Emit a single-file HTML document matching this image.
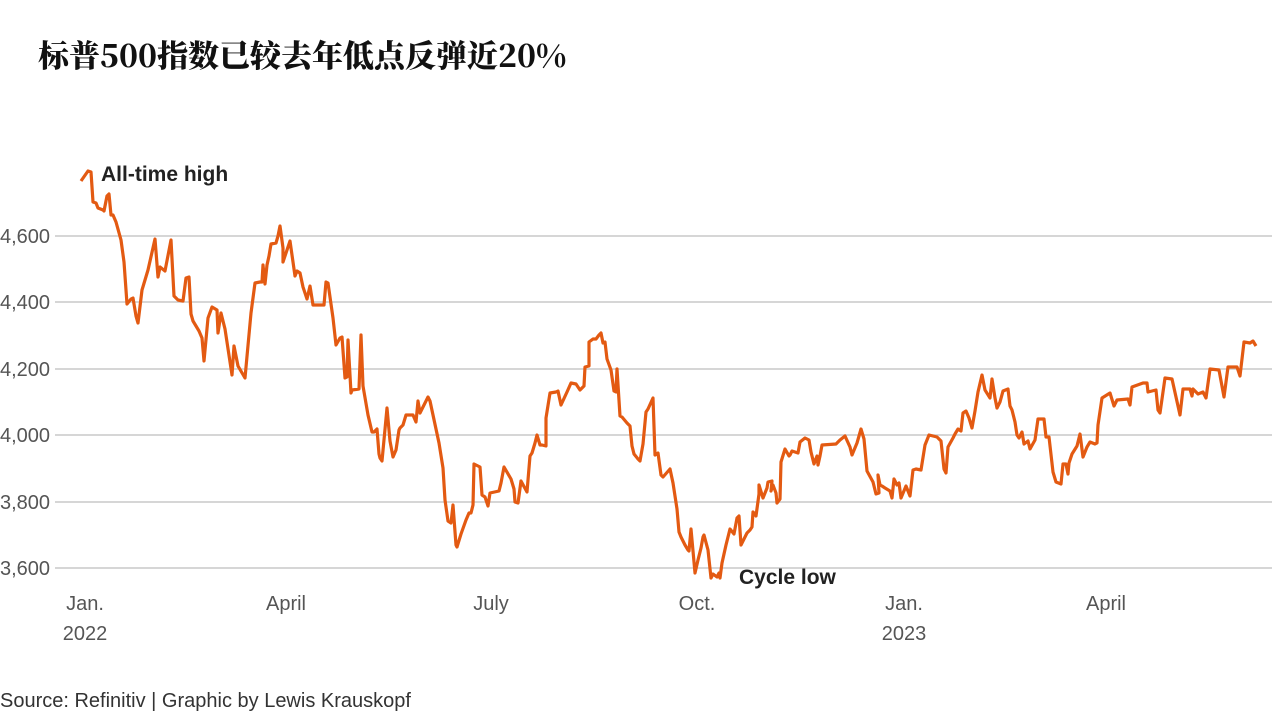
<!DOCTYPE html>
<html><head><meta charset="utf-8"><style>
body{margin:0;background:#fff;width:1276px;height:716px;overflow:hidden;font-family:"Liberation Sans","Noto Sans CJK SC",sans-serif}
</style></head><body>
<svg width="1276" height="716" xmlns="http://www.w3.org/2000/svg">
<text x="38" y="67" font-family="'Noto Serif CJK SC',serif" font-weight="900" font-size="31" fill="#111">标普500指数已较去年低点反弹近20%</text>
<g stroke="#c8c8c8" stroke-width="1.5">
<line x1="55" x2="1272" y1="236" y2="236"/><line x1="55" x2="1272" y1="302" y2="302"/><line x1="55" x2="1272" y1="369" y2="369"/><line x1="55" x2="1272" y1="435" y2="435"/><line x1="55" x2="1272" y1="502" y2="502"/><line x1="55" x2="1272" y1="568" y2="568"/>
</g>
<g font-size="20" fill="#555" font-family="'Liberation Sans',sans-serif">
<text x="0" y="243">4,600</text><text x="0" y="309">4,400</text><text x="0" y="376">4,200</text><text x="0" y="442">4,000</text><text x="0" y="509">3,800</text><text x="0" y="575">3,600</text>
<g text-anchor="middle"><text x="85" y="610">Jan.</text><text x="85" y="640">2022</text><text x="286" y="610">April</text><text x="491" y="610">July</text><text x="697" y="610">Oct.</text><text x="904" y="610">Jan.</text><text x="904" y="640">2023</text><text x="1106" y="610">April</text></g>
</g>
<polyline fill="none" stroke="#e35a12" stroke-width="3.2" stroke-linejoin="round" points="81,181 88,171 91,172 93,202 96,203 98,208 103,210 104,211 107,196 109,194 111,215 113,215 116,222 121,240 124,262 127,304 131,299 133,298 136,316 138,323 142,290 148,270 155,239 158,277 160,267 165,271 171,240 174,296 178,300 183,301 186,278 189,277 191,314 193,321 199,331 202,338 204,361 208,318 212,307 217,310 218,333 221,313 225,329 232,375 234,346 238,366 245,378 251,313 255,283 260,282 262,282 263,265 265,284 267,265 269,256 271,244 276,243 278,236 280,226 283,248 283,262 290,241 295,276 297,271 300,273 303,287 307,299 310,286 313,305 324,305 326,282 328,283 333,318 336,345 340,338 342,337 345,378 347,377 348,340 351,393 352,390 359,389 361,335 363,386 368,415 372,432 374,432 377,429 379,454 380,458 382,461 387,408 390,441 393,457 396,450 399,430 400,428 403,425 406,415 413,415 416,422 418,401 420,413 428,397 430,401 439,443 443,468 445,500 448,521 451,523 453,505 456,545 457,547 461,534 466,520 469,513 471,513 473,505 474,464 480,467 482,495 485,497 488,506 490,493 499,491 501,483 504,467 511,479 514,489 515,502 518,503 521,481 527,492 530,456 532,453 535,443 537,435 540,445 542,445 546,446 546,418 550,393 556,392 558,391 561,405 567,392 571,383 576,384 580,390 584,386 585,367 589,366 589,342 593,339 596,339 599,335 601,333 603,343 605,342 607,359 611,370 614,391 616,392 617,369 620,416 622,417 627,423 630,426 632,446 634,454 638,459 640,461 643,444 646,412 648,409 653,398 655,455 658,453 661,475 663,477 670,469 673,483 677,509 679,532 681,537 685,545 688,550 689,551 691,529 695,573 698,560 701,548 703,537 704,535 708,550 711,578 713,574 717,577 719,573 720,578 722,563 726,545 730,529 734,534 737,518 739,516 741,545 744,539 747,533 750,530 752,527 753,512 755,514 756,516 759,494 759,485 763,498 767,488 768,482 772,481 771,491 773,485 776,493 777,503 780,499 781,462 785,449 789,456 790,455 792,451 795,452 798,453 800,442 805,438 809,440 811,452 814,464 817,456 818,465 820,456 822,445 836,444 840,440 845,436 850,447 852,455 857,443 861,429 864,439 867,471 873,482 874,486 876,494 879,493 878,475 880,485 882,486 885,488 890,491 892,498 894,479 897,485 899,483 901,498 906,486 910,496 913,470 916,469 921,470 925,445 929,435 933,436 937,437 941,441 944,469 946,473 948,447 953,438 955,434 958,429 961,431 963,413 966,411 969,418 972,428 975,411 978,392 982,375 985,390 990,398 992,379 995,398 997,408 1000,402 1003,391 1008,389 1010,406 1012,410 1015,422 1017,435 1019,438 1022,432 1024,444 1028,441 1030,449 1035,440 1038,419 1044,419 1046,437 1049,437 1053,472 1056,482 1061,484 1063,464 1066,464 1068,474 1069,463 1072,454 1077,446 1080,434 1083,457 1087,447 1090,442 1095,444 1097,443 1098,425 1102,398 1110,393 1114,406 1117,400 1128,399 1130,405 1132,387 1143,383 1147,383 1148,392 1156,390 1158,410 1160,413 1165,378 1172,379 1180,415 1183,389 1190,389 1192,396 1193,389 1198,394 1203,392 1206,398 1210,369 1219,370 1224,397 1228,367 1237,367 1240,376 1244,342 1250,343 1253,341 1256,346"/>
<text x="101" y="181" font-size="21" font-weight="bold" fill="#222">All-time high</text>
<text x="739" y="584" font-size="21" font-weight="bold" fill="#222">Cycle low</text>
<text x="0" y="707" font-size="20" fill="#333">Source: Refinitiv | Graphic by Lewis Krauskopf</text>
</svg>
</body></html>
